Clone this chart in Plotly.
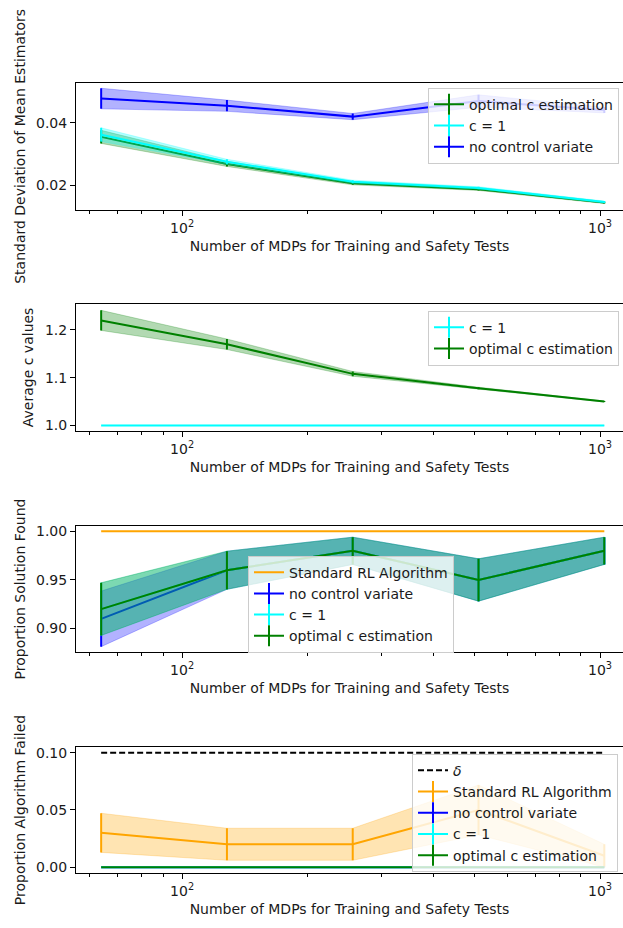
import plotly.graph_objects as go

# ---------------- data ----------------
x = [64, 128, 256, 512, 1024]

# panel 1: standard deviation of mean estimators
sd_opt = [0.0355, 0.0268, 0.0206, 0.0187, 0.0144]
sd_opt_err = [0.0021, 0.0008, 0.0005, 0.0004, 0.0003]
sd_c1 = [0.0362, 0.0275, 0.0211, 0.0191, 0.0146]
sd_c1_err = [0.0022, 0.0008, 0.0005, 0.0004, 0.0003]
sd_nocv = [0.0478, 0.0455, 0.0420, 0.0470, 0.0441]
sd_nocv_err = [0.0033, 0.0018, 0.0010, 0.0020, 0.0009]

# panel 2: average c values
c_c1 = [1.0, 1.0, 1.0, 1.0, 1.0]
c_c1_err = [0.0, 0.0, 0.0, 0.0, 0.0]
c_opt = [1.220, 1.170, 1.108, 1.078, 1.050]
c_opt_err = [0.021, 0.011, 0.005, 0.002, 0.001]

# panel 3: proportion solution found
ps_std = [1.0, 1.0, 1.0, 1.0, 1.0]
ps_nocv = [0.91, 0.96, 0.98, 0.95, 0.98]
ps_nocv_err = [0.0286, 0.0196, 0.0140, 0.0218, 0.0140]
ps_c1 = [0.92, 0.96, 0.98, 0.95, 0.98]
ps_c1_err = [0.0271, 0.0196, 0.0140, 0.0218, 0.0140]
ps_opt = [0.92, 0.96, 0.98, 0.95, 0.98]
ps_opt_err = [0.0271, 0.0196, 0.0140, 0.0218, 0.0140]

# panel 4: proportion algorithm failed
pf_delta = [0.1, 0.1, 0.1, 0.1, 0.1]
pf_std = [0.03, 0.02, 0.02, 0.05, 0.01]
pf_std_err = [0.0171, 0.0140, 0.0140, 0.0218, 0.0100]
pf_nocv = [0.0, 0.0, 0.0, 0.0, 0.0]
pf_c1 = [0.0, 0.0, 0.0, 0.0, 0.0]
pf_opt = [0.0, 0.0, 0.0, 0.0, 0.0]
pf_zero_err = [0.0, 0.0, 0.0, 0.0, 0.0]

x_title = "Number of MDPs for Training and Safety Tests"
y_titles = ["Standard Deviation of Mean Estimators", "Average c values",
            "Proportion Solution Found", "Proportion Algorithm Failed"]

BLUE = (0, 0, 255)
CYAN = (0, 255, 255)
GREEN = (0, 128, 0)
ORANGE = (255, 165, 0)
BLACK = (0, 0, 0)


def rgb(c, a=1.0):
    return "rgba(%d,%d,%d,%.3f)" % (c[0], c[1], c[2], a)


fig = go.Figure()


def ax(k):
    s = "" if k == 1 else str(k)
    return "x" + s, "y" + s


def band(k, y, err, color):
    xa, ya = ax(k)
    xs = list(x) + list(x)[::-1]
    ys = [v + e for v, e in zip(y, err)] + [v - e for v, e in zip(y, err)][::-1]
    fig.add_trace(go.Scatter(
        x=xs, y=ys, mode="lines", fill="toself",
        fillcolor=rgb(color, 0.3), line=dict(width=0.8, color=rgb(color, 0.3)),
        showlegend=False, hoverinfo="skip", xaxis=xa, yaxis=ya))


def errline(k, y, err, color):
    xa, ya = ax(k)
    fig.add_trace(go.Scatter(
        x=x, y=y, mode="lines", line=dict(color=rgb(color), width=2),
        error_y=dict(type="data", array=err, visible=True, color=rgb(color),
                     thickness=2, width=0),
        showlegend=False, xaxis=xa, yaxis=ya))


def plainline(k, y, color, dash="solid"):
    xa, ya = ax(k)
    fig.add_trace(go.Scatter(
        x=x, y=y, mode="lines", line=dict(color=rgb(color), width=2, dash=dash),
        showlegend=False, xaxis=xa, yaxis=ya))


def leg(k, name, color, bar=True, dash="solid"):
    xa, ya = ax(k)
    lg = "legend" + ("" if k == 1 else str(k))
    fig.add_trace(go.Scatter(
        x=[None], y=[None], mode="lines+markers" if bar else "lines",
        name=name, legend=lg, legendgroup=name + str(k),
        line=dict(color=rgb(color), width=2, dash=dash),
        marker=dict(symbol="line-ns-open", size=15,
                    line=dict(color=rgb(color), width=2)),
        xaxis=xa, yaxis=ya))


# panel 1
errline(1, sd_opt, sd_opt_err, GREEN); band(1, sd_opt, sd_opt_err, GREEN)
errline(1, sd_c1, sd_c1_err, CYAN); band(1, sd_c1, sd_c1_err, CYAN)
errline(1, sd_nocv, sd_nocv_err, BLUE); band(1, sd_nocv, sd_nocv_err, BLUE)
leg(1, "optimal c estimation", GREEN)
leg(1, "c = 1", CYAN)
leg(1, "no control variate", BLUE)

# panel 2
errline(2, c_c1, c_c1_err, CYAN); band(2, c_c1, c_c1_err, CYAN)
errline(2, c_opt, c_opt_err, GREEN); band(2, c_opt, c_opt_err, GREEN)
leg(2, "c = 1", CYAN)
leg(2, "optimal c estimation", GREEN)

# panel 3
plainline(3, ps_std, ORANGE)
errline(3, ps_nocv, ps_nocv_err, BLUE); band(3, ps_nocv, ps_nocv_err, BLUE)
errline(3, ps_c1, ps_c1_err, CYAN); band(3, ps_c1, ps_c1_err, CYAN)
errline(3, ps_opt, ps_opt_err, GREEN); band(3, ps_opt, ps_opt_err, GREEN)
leg(3, "Standard RL Algorithm", ORANGE, bar=False)
leg(3, "no control variate", BLUE)
leg(3, "c = 1", CYAN)
leg(3, "optimal c estimation", GREEN)

# panel 4
plainline(4, pf_delta, BLACK, dash="6px,3px")
errline(4, pf_std, pf_std_err, ORANGE); band(4, pf_std, pf_std_err, ORANGE)
errline(4, pf_nocv, pf_zero_err, BLUE)
errline(4, pf_c1, pf_zero_err, CYAN)
errline(4, pf_opt, pf_zero_err, GREEN)
leg(4, "<i>δ</i>", BLACK, bar=False, dash="6px,3px")
leg(4, "Standard RL Algorithm", ORANGE)
leg(4, "no control variate", BLUE)
leg(4, "c = 1", CYAN)
leg(4, "optimal c estimation", GREEN)

H = 928.0
panels_px = [(81, 209), (303, 431), (526, 653), (748, 875)]
y_ranges = [[0.0120, 0.0529], [0.988, 1.255], [0.8757, 1.0058], [-0.0053, 0.1052]]
y_ticks = [[0.02, 0.04], [1.0, 1.1, 1.2], [0.90, 0.95, 1.00], [0.00, 0.05, 0.10]]
y_fmts = [".2f", ".1f", ".2f", ".2f"]
legend_pos = [(428, 86), (428, 310), (248, 556), (412, 755)]

FONT = dict(family="DejaVu Sans", size=14, color="#1a1a1a")
minor_vals = [60, 70, 80, 90, 200, 300, 400, 500, 600, 700, 800, 900]

layout = dict(
    width=623, height=928, margin=dict(l=0, r=0, t=0, b=0),
    paper_bgcolor="white", plot_bgcolor="white", font=FONT,
)
for i in range(4):
    k = i + 1
    sfx = "" if k == 1 else str(k)
    top, bot = panels_px[i]
    layout["xaxis" + sfx] = dict(
        type="log", range=[1.746, 3.055], domain=[76 / 623.0, 1.0],
        anchor="y" + sfx, showline=True, linecolor="black", linewidth=1.1,
        mirror=True, ticks="outside", ticklen=5, tickwidth=1.1, tickcolor="black",
        tickvals=[100, 1000], ticktext=["10<sup>2</sup>", "10<sup>3</sup>"],
        minor=dict(ticks="outside", ticklen=3, tickwidth=0.9, tickcolor="black",
                   tickvals=minor_vals, showgrid=False),
        showgrid=False, zeroline=False, tickfont=FONT,
        title=dict(text=x_title, font=FONT, standoff=6),
    )
    layout["yaxis" + sfx] = dict(
        range=y_ranges[i], domain=[1 - bot / H, 1 - top / H],
        anchor="x" + sfx, showline=True, linecolor="black", linewidth=1.1,
        ticks="outside", ticklen=5, tickwidth=1.1, tickcolor="black",
        tickvals=y_ticks[i], tickformat=y_fmts[i], showgrid=False, zeroline=False,
        tickfont=FONT, title=dict(text=y_titles[i], font=FONT, standoff=7),
    )
    lx, ly = legend_pos[i]
    layout["legend" + sfx] = dict(
        x=lx / 623.0, y=1 - ly / H, xanchor="left", yanchor="top",
        xref="paper", yref="paper",
        bgcolor="rgba(255,255,255,0.8)", bordercolor="#cccccc", borderwidth=1,
        font=FONT, tracegroupgap=3, traceorder="normal",
    )

fig.update_layout(**layout)
fig.write_html("out.html")
